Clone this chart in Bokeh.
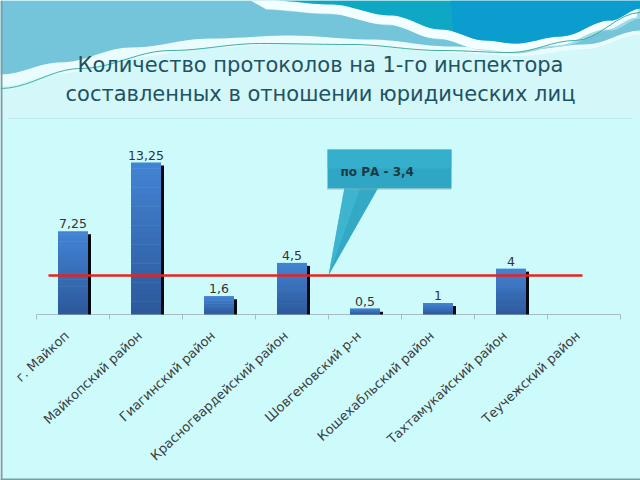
import numpy as np
from bokeh.plotting import figure
from bokeh.models import Range1d
from bokeh.core.properties import value
from bokeh.embed import file_html
from bokeh.resources import INLINE

# ---------------- data ----------------
categories = ["г. Майкоп", "Майкопский район", "Гиагинский район",
              "Красногвардейский район", "Шовгеновский р-н",
              "Кошехабльский район", "Тахтамукайский район", "Теучежский район"]
values = [7.25, 13.25, 1.6, 4.5, 0.5, 1, 4, 0]
value_labels = ["7,25", "13,25", "1,6", "4,5", "0,5", "1", "4", ""]
average = 3.4
average_label = "по РА - " + str(average).replace(".", ",")
title_lines = ["Количество протоколов на 1-го инспектора",
               "составленных в отношении юридических лиц"]

# ---------------- layout helpers (pixel -> data) ----------------
W, H = 640, 480
X0_PX, CAT_PX = 36.0, 73.0
BASE_PX, UNIT_PX = 314.0, 11.47


def dx(px):
    return (np.asarray(px, dtype=float) - X0_PX) / CAT_PX


def dy(py):
    return (BASE_PX - np.asarray(py, dtype=float)) / UNIT_PX


p = figure(width=W, height=H, x_range=Range1d(float(dx(0)), float(dx(W))),
           y_range=Range1d(float(dy(H)), float(dy(0))),
           x_axis_type=None, y_axis_type=None,
           output_backend="svg", toolbar_location=None, min_border=0,
           background_fill_color="#cdfbfc", border_fill_color="#cdfbfc",
           outline_line_color=None)
p.grid.visible = False


def poly(pts, **kw):
    xs = [a for a, b in pts]
    ys = [b for a, b in pts]
    p.patch(dx(xs).tolist(), dy(ys).tolist(), line_color=None, **kw)


def smooth(ctrl, n=80):
    cx = np.array([a for a, b in ctrl], float)
    cy = np.array([b for a, b in ctrl], float)
    xs = np.linspace(cx[0], cx[-1], n)
    ys = np.empty_like(xs)
    for i, x in enumerate(xs):
        k = min(np.searchsorted(cx, x, side="right") - 1, len(cx) - 2)
        t = (x - cx[k]) / (cx[k + 1] - cx[k])
        t = (1 - np.cos(np.pi * t)) / 2
        ys[i] = cy[k] * (1 - t) + cy[k + 1] * t
    return list(zip(xs, ys))


# ---------------- decorative background ----------------
poly([(0, 0), (640, 0), (640, 118), (0, 118)], fill_color="#d4f7f9")

curveA = smooth([(0, 74), (60, 62), (130, 47), (210, 38), (290, 35),
                 (370, 39), (450, 46), (520, 50), (585, 44), (640, 30)])
thick = np.linspace(12, 4, len(curveA))
band = [(x, y + t) for (x, y), t in zip(curveA, thick)]
poly([(0, 0)] + band + [(640, 0)], fill_color="#eafcfd")
poly([(0, 0)] + curveA + [(640, 0)], fill_color="#74c5d9")

curveB = smooth([(270, 0), (330, 4), (390, 15), (440, 29), (485, 40),
                 (515, 43), (560, 36), (610, 20), (640, 8)])
poly([(640, 0)] + [(x, y + 10) for x, y in curveB] + [(640, 30)], fill_color="#a3dbe7")
poly([(250, 0)] + [(x - 4, y + 9) for x, y in curveB] + [(640, 0)], fill_color="#f2feff")
poly([(270, 0)] + curveB + [(640, 0)], fill_color="#0fa8c4")
curveC = [(x, y) for x, y in curveB if x >= 450]
poly([(450, 0)] + curveC + [(640, 0)], fill_color="#0a98d3", fill_alpha=0.7)

green = smooth([(0, 88), (80, 68), (170, 50), (260, 43), (350, 44),
                (440, 50), (510, 52), (575, 40), (640, 12)])
p.line(dx([a for a, b in green]).tolist(), dy([b for a, b in green]).tolist(),
       line_color="#3fae9f", line_width=1)

# chart area frame
p.line(dx([8, 632]).tolist(), dy([118, 118]).tolist(), line_color="#bfe8ec", line_width=1)
p.line(dx([1, 1]).tolist(), dy([0, 480]).tolist(), line_color="#7c9ca4", line_width=2)
p.line(dx([0, 640]).tolist(), dy([479, 479]).tolist(), line_color="#7c9ca4", line_width=2)

# ---------------- title ----------------
p.text(x=[float(dx(320))] * 2, y=dy([64, 93]).tolist(), text=title_lines,
       text_font=value("DejaVu Sans"), text_font_size="21px",
       text_color="#1f5262", text_align="center", text_baseline="alphabetic")

# ---------------- axis line & ticks ----------------
n = len(categories)
p.segment(x0=[0], y0=[0], x1=[n], y1=[0], line_color="#a9bcc4", line_width=1)
ticks = list(range(n + 1))
p.segment(x0=ticks, y0=[0] * len(ticks), x1=ticks, y1=[float(dy(BASE_PX + 5))] * len(ticks),
          line_color="#a9bcc4", line_width=1)

# ---------------- bars ----------------
centers = np.arange(n) + 0.5
half = 15.0 / CAT_PX
sh_w = 3.0 / CAT_PX
sh_drop = 3.0 / UNIT_PX
vals = np.array(values, float)

# shadow
mask = vals > 0
p.quad(left=(centers[mask] + half).tolist(), right=(centers[mask] + half + sh_w).tolist(),
       bottom=[0] * int(mask.sum()), top=(vals[mask] - sh_drop).clip(min=0.02).tolist(),
       fill_color="#050a10", line_color=None)

# gradient bars built from overlapping strips
top_rgb = np.array([0x44, 0x84, 0xd4])
bot_rgb = np.array([0x2b, 0x58, 0x9a])
NS = 24
L, R, B, T, C = [], [], [], [], []
for c, v in zip(centers, vals):
    if v <= 0:
        continue
    for k in range(NS):
        f0, f1 = k / NS, (k + 1) / NS
        col = bot_rgb + (top_rgb - bot_rgb) * ((f0 + f1) / 2)
        L.append(c - half); R.append(c + half)
        B.append(v * f0); T.append(min(v, v * f1 + 0.6 / UNIT_PX))
        C.append("#%02x%02x%02x" % tuple(int(round(t)) for t in col))
p.quad(left=L, right=R, bottom=B, top=T, fill_color=C, line_color=None)

# value labels
lab_x = [float(c) for c, v in zip(centers, vals) if v > 0]
lab_y = [float(v) for v in vals if v > 0]
lab_t = [t for t, v in zip(value_labels, vals) if v > 0]
p.text(x=lab_x, y=lab_y, text=lab_t, y_offset=-3,
       text_font=value("DejaVu Sans"), text_font_size="12.5px", text_color="#333333",
       text_align="center", text_baseline="bottom")

# category labels (rotated)
p.text(x=centers.tolist(), y=[0] * n, text=categories, angle=np.deg2rad(43),
       x_offset=-6, y_offset=19,
       text_font=value("DejaVu Sans"), text_font_size="13px", text_color="#3e3e3e",
       text_align="right", text_baseline="middle")

# ---------------- average line ----------------
p.segment(x0=[float(dx(48))], y0=[average], x1=[float(dx(582))], y1=[average],
          line_color="#e8231e", line_width=2.5)

# ---------------- callout ----------------
tip_y = BASE_PX - average * UNIT_PX
poly([(344, 187), (378, 187), (328, tip_y)], fill_color="#33a9c6")
poly([(344, 187), (360, 187), (328, tip_y)], fill_color="#48bcd6", fill_alpha=0.6)
poly([(327, 149), (451, 149), (451, 188), (327, 188)], fill_color="#2ea6c4")
poly([(327, 149), (451, 149), (451, 168), (327, 168)], fill_color="#3cb6d2", fill_alpha=0.6)
p.line(dx([327, 451]).tolist(), dy([188.5, 188.5]).tolist(), line_color="#8fa9ae",
       line_width=1.5, line_dash="1 1")
p.text(x=[float(dx(340))], y=[float(dy(171))], text=[average_label],
       text_font=value("DejaVu Sans"), text_font_style="bold", text_font_size="12px",
       text_color="#1b3a44", text_align="left", text_baseline="middle")

open("out.html", "w").write(file_html(p, INLINE))
